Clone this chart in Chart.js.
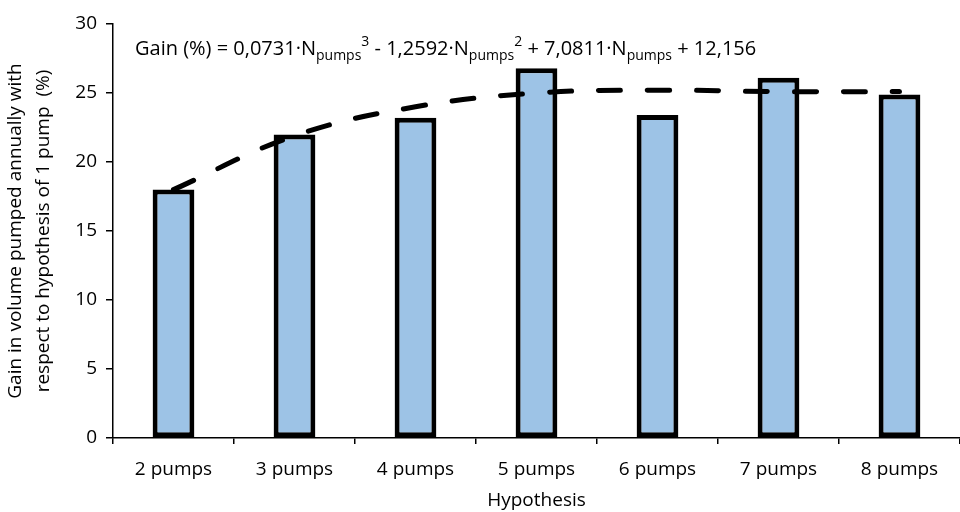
<!DOCTYPE html>
<html>
<head>
<meta charset="utf-8">
<script src="https://cdn.jsdelivr.net/npm/chart.js@4/dist/chart.umd.min.js"></script>
<style>
  html, body { margin: 0; padding: 0; background: #fff; overflow: hidden; }
  #wrap { position: relative; width: 960px; height: 512px; }
</style>
</head>
<body>
<div id="wrap"><canvas id="gainChart" width="960" height="512"></canvas></div>
<script>
// Chart data
const hypotheses = ['2 pumps', '3 pumps', '4 pumps', '5 pumps', '6 pumps', '7 pumps', '8 pumps'];
const gainValues = [18.0, 22.0, 23.2, 26.8, 23.4, 26.1, 24.9];
// polynomial trend line as it appears at each category centre
const trendValues = [18.0, 21.9, 24.0, 25.0, 25.2, 25.1, 25.1];
const yTicks = [0, 5, 10, 15, 20, 25, 30];

const FONT = 'Open Sans';

// equation text drawn at the top of the plot (sub = subscript, sup = superscript)
const equationParts = [
  { t: 'Gain (%) = 0,0731\u00b7N' },
  { t: 'pumps', sub: true },
  { t: '3', sup: true },
  { t: ' - 1,2592\u00b7N' },
  { t: 'pumps', sub: true },
  { t: '2', sup: true },
  { t: ' + 7,0811\u00b7N' },
  { t: 'pumps', sub: true },
  { t: ' + 12,156' }
];

const equationPlugin = {
  id: 'equation',
  afterDatasetsDraw(chart) {
    const ctx = chart.ctx;
    let x = 135;
    const base = 55;
    ctx.save();
    ctx.fillStyle = '#000';
    ctx.textBaseline = 'alphabetic';
    ctx.textAlign = 'left';
    equationParts.forEach(p => {
      let y = base;
      if (p.sub || p.sup) {
        ctx.font = `14px "${FONT}"`;
        y = p.sub ? base + 5 : base - 9;
      } else {
        ctx.font = `20px "${FONT}"`;
      }
      ctx.fillText(p.t, x, y);
      x += ctx.measureText(p.t).width;
    });
    ctx.restore();
  }
};

const ctx = document.getElementById('gainChart').getContext('2d');
new Chart(ctx, {
  data: {
    labels: hypotheses,
    datasets: [
      {
        type: 'line',
        label: 'Trend',
        data: trendValues,
        borderColor: '#000',
        borderWidth: 5,
        borderDash: [22, 27],
        borderCapStyle: 'round',
        pointRadius: 0,
        tension: 0.4,
        fill: false,
        order: 0
      },
      {
        type: 'bar',
        label: 'Gain',
        data: gainValues,
        backgroundColor: '#9DC3E6',
        borderColor: '#000',
        borderWidth: 5,
        borderSkipped: false,
        barPercentage: 0.345,
        categoryPercentage: 1.0,
        order: 1
      }
    ]
  },
  options: {
    responsive: false,
    animation: false,
    layout: { padding: { top: 24, right: 0, bottom: 0, left: 0 } },
    plugins: {
      legend: { display: false },
      tooltip: { enabled: false }
    },
    scales: {
      x: {
        offset: true,
        grid: {
          offset: true,
          display: true,
          drawOnChartArea: false,
          drawTicks: true,
          tickLength: 6,
          color: '#000',
          lineWidth: 1.5
        },
        border: { display: true, color: '#000', width: 1.5 },
        ticks: {
          color: '#000',
          padding: 14,
          maxRotation: 0,
          font: { family: FONT, size: 19 }
        },
        title: {
          display: true,
          text: 'Hypothesis',
          color: '#000',
          padding: { top: 0, bottom: 0 },
          font: { family: FONT, size: 19 }
        },
        afterFit(scale) { scale.height = 74; }
      },
      y: {
        min: 0,
        max: 30,
        afterBuildTicks(scale) {
          scale.ticks = yTicks.map(v => ({ value: v }));
        },
        grid: {
          display: true,
          drawOnChartArea: false,
          drawTicks: true,
          tickLength: 7,
          color: '#000',
          lineWidth: 1.5
        },
        border: { display: true, color: '#000', width: 1.5 },
        ticks: {
          color: '#000',
          padding: 9,
          font: { family: FONT, size: 19 }
        },
        title: {
          display: true,
          text: ['Gain in volume pumped annually with', 'respect to hypothesis of 1 pump  (%)'],
          color: '#000',
          padding: { top: 2, bottom: 0 },
          font: { family: FONT, size: 19, lineHeight: 1.45 }
        },
        afterFit(scale) { scale.width = 113; }
      }
    }
  },
  plugins: [equationPlugin]
});
</script>
</body>
</html>
